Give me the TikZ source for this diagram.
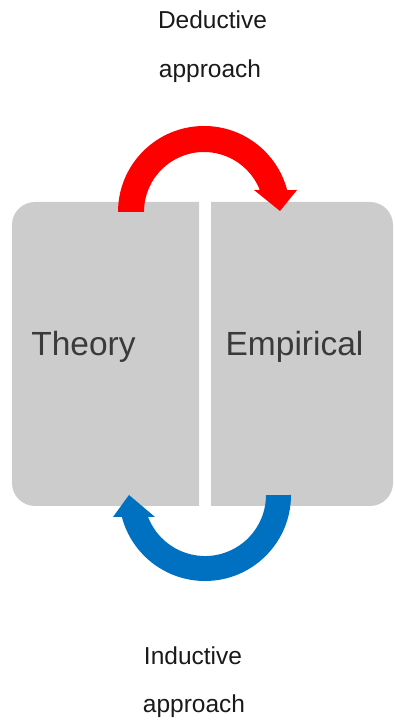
\documentclass[tikz,border=0pt]{standalone}
\usepackage{fontspec}
\setmainfont{Liberation Sans}
\definecolor{boxgray}{HTML}{CCCCCC}
\definecolor{dedred}{HTML}{FF0000}
\definecolor{indblue}{HTML}{0070C0}
\definecolor{lbltext}{HTML}{1A1A1A}
\definecolor{boxtext}{HTML}{3A3A3A}
\begin{document}
\begin{tikzpicture}[x=1pt,y=1pt,
  lbl/.style={font=\fontsize{24.5}{28}\selectfont, text=lbltext, inner sep=0pt, anchor=base},
  boxlbl/.style={font=\fontsize{33.5}{38}\selectfont, text=boxtext, inner sep=0pt, anchor=base}]
\useasboundingbox (0,0) rectangle (394,720);
% boxes
\fill[boxgray] (199,214) -- (35,214) arc[start angle=270, end angle=180, radius=23]
  -- (12,495) arc[start angle=180, end angle=90, radius=23] -- (199,518) -- cycle;
\fill[boxgray] (211,214) -- (370,214) arc[start angle=-90, end angle=0, radius=23]
  -- (393,495) arc[start angle=0, end angle=90, radius=23] -- (211,518) -- cycle;
% red deductive arrow
\fill[dedred] (118,508) arc[start angle=180, end angle=14.8, radius=86]
  -- (297,530) -- (280,509) -- (254,530) -- (259.8,530)
  arc[start angle=21.5, end angle=180, radius=60] -- cycle;
% blue inductive arrow
\fill[indblue] (291,225) arc[start angle=0, end angle=-165.2, radius=86]
  -- (113,203) -- (129,225) -- (155,203) -- (148.1,203)
  arc[start angle=-158.9, end angle=0, radius=61] -- cycle;
% texts
\node[boxlbl] (theory) at (83.5,364) {Theory};
\node[boxlbl] (empirical) at (294.5,364) {Empirical};
\node[lbl] (ded1) at (212.5,691) {Deductive};
\node[lbl] (ded2) at (210,642) {approach};
\node[lbl] (ind1) at (193,55) {Inductive};
\node[lbl] (ind2) at (194,7) {approach};
\end{tikzpicture}
\end{document}
